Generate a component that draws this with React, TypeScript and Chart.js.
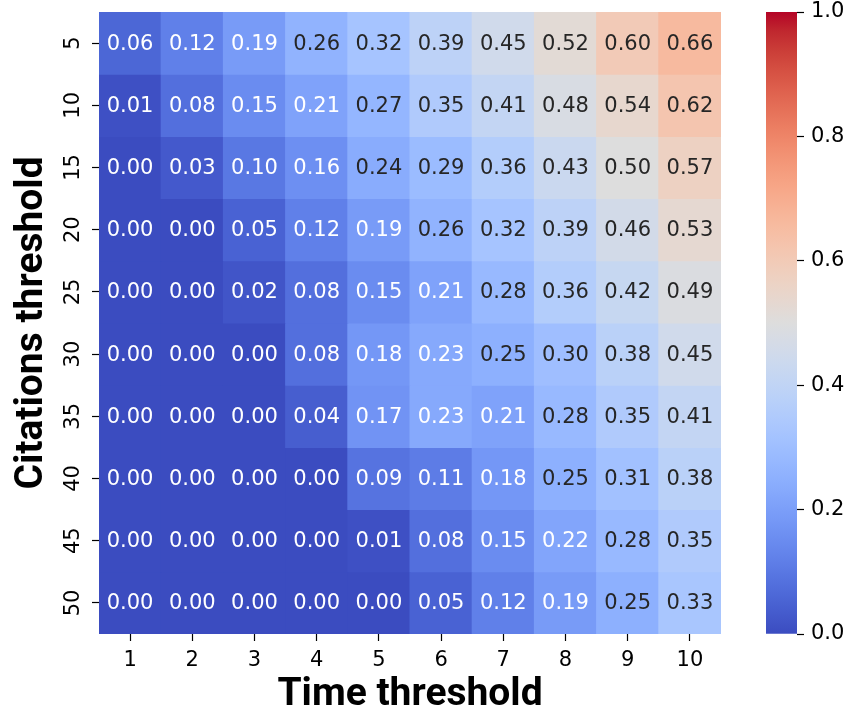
import React, { useEffect, useRef } from "react";
import { Chart, registerables } from "chart.js";

Chart.register(...registerables);

// ---- data ----
const timeThresholds = ["1", "2", "3", "4", "5", "6", "7", "8", "9", "10"];
const citationThresholds = ["5", "10", "15", "20", "25", "30", "35", "40", "45", "50"];

const row5 = [0.06, 0.12, 0.19, 0.26, 0.32, 0.39, 0.45, 0.52, 0.6, 0.66];
const row10 = [0.01, 0.08, 0.15, 0.21, 0.27, 0.35, 0.41, 0.48, 0.54, 0.62];
const row15 = [0.0, 0.03, 0.1, 0.16, 0.24, 0.29, 0.36, 0.43, 0.5, 0.57];
const row20 = [0.0, 0.0, 0.05, 0.12, 0.19, 0.26, 0.32, 0.39, 0.46, 0.53];
const row25 = [0.0, 0.0, 0.02, 0.08, 0.15, 0.21, 0.28, 0.36, 0.42, 0.49];
const row30 = [0.0, 0.0, 0.0, 0.08, 0.18, 0.23, 0.25, 0.3, 0.38, 0.45];
const row35 = [0.0, 0.0, 0.0, 0.04, 0.17, 0.23, 0.21, 0.28, 0.35, 0.41];
const row40 = [0.0, 0.0, 0.0, 0.0, 0.09, 0.11, 0.18, 0.25, 0.31, 0.38];
const row45 = [0.0, 0.0, 0.0, 0.0, 0.01, 0.08, 0.15, 0.22, 0.28, 0.35];
const row50 = [0.0, 0.0, 0.0, 0.0, 0.0, 0.05, 0.12, 0.19, 0.25, 0.33];
const matrix = [row5, row10, row15, row20, row25, row30, row35, row40, row45, row50];

const colorbarTicks = [0, 0.2, 0.4, 0.6, 0.8, 1.0];

// ---- coolwarm colormap ----
const COOLWARM: number[][] = [
  [59, 76, 192], [68, 90, 204], [77, 104, 215], [87, 117, 225], [98, 130, 234],
  [108, 142, 241], [119, 154, 247], [130, 165, 251], [141, 176, 254], [152, 185, 255],
  [163, 194, 255], [174, 201, 253], [184, 208, 249], [194, 213, 244], [204, 217, 238],
  [213, 219, 230], [221, 221, 221], [229, 216, 209], [236, 211, 197], [241, 204, 185],
  [245, 196, 173], [247, 187, 160], [247, 177, 148], [247, 166, 135], [244, 154, 123],
  [241, 141, 111], [236, 127, 99], [229, 112, 88], [222, 96, 77], [213, 80, 66],
  [203, 62, 56], [192, 40, 47], [180, 4, 38],
];

function coolwarm(t: number): number[] {
  const v = Math.min(1, Math.max(0, t)) * (COOLWARM.length - 1);
  const i = Math.min(COOLWARM.length - 2, Math.floor(v));
  const f = v - i;
  const a = COOLWARM[i];
  const b = COOLWARM[i + 1];
  return [0, 1, 2].map((k) => Math.round(a[k] + (b[k] - a[k]) * f));
}
const rgbStr = (c: number[]) => `rgb(${c[0]},${c[1]},${c[2]})`;

function luminance(c: number[]): number {
  const lin = c.map((x) => {
    const s = x / 255;
    return s <= 0.03928 ? s / 12.92 : Math.pow((s + 0.055) / 1.055, 2.4);
  });
  return 0.2126 * lin[0] + 0.7152 * lin[1] + 0.0722 * lin[2];
}

const TICK_FONT = { family: "DejaVu Sans", size: 21 };
const TITLE_FONT = { family: "Roboto", size: 39, weight: "bold" as const, lineHeight: 1 };

const annotPlugin = {
  id: "annot",
  afterDatasetsDraw(chart: any) {
    const ctx = chart.ctx;
    ctx.save();
    ctx.font = '21px "DejaVu Sans"';
    ctx.textAlign = "center";
    ctx.textBaseline = "middle";
    matrix.forEach((row, r) => {
      const meta = chart.getDatasetMeta(r);
      row.forEach((v, c) => {
        const el = meta.data[c];
        if (!el) return;
        const p = el.getCenterPoint();
        ctx.fillStyle = luminance(coolwarm(v)) > 0.408 ? "#262626" : "#ffffff";
        ctx.fillText(v.toFixed(2), p.x, p.y + 1);
      });
    });
    ctx.restore();
  },
};

export default function App() {
  const mainRef = useRef<HTMLCanvasElement>(null);
  const cbRef = useRef<HTMLCanvasElement>(null);

  useEffect(() => {
    const datasets = matrix.map((row, r) => ({
      label: citationThresholds[r],
      data: row.map(() => [r - 0.5, r + 0.5]),
      backgroundColor: row.map((v) => rgbStr(coolwarm(v))),
      borderWidth: 0,
      barPercentage: 1,
      categoryPercentage: 1,
      inflateAmount: 0.5,
    }));

    const main = new Chart(mainRef.current as HTMLCanvasElement, {
      type: "bar",
      data: { labels: timeThresholds, datasets: datasets as any },
      plugins: [annotPlugin],
      options: {
        animation: false,
        responsive: false,
        layout: { padding: { left: 0, top: 12, right: 130, bottom: 0 } },
        plugins: { legend: { display: false }, tooltip: { enabled: false } },
        scales: {
          x: {
            type: "category",
            stacked: true,
            offset: true,
            border: { display: false },
            grid: { offset: false, drawOnChartArea: false, drawTicks: true, tickLength: 7, color: "#000", tickWidth: 1.2 },
            ticks: { font: TICK_FONT, color: "#000", padding: 7, minRotation: 0, maxRotation: 0, autoSkip: false },
            title: { display: true, text: "Time threshold", font: TITLE_FONT, color: "#000", padding: { top: 0, bottom: 0 } },
            afterFit: (s: any) => {
              s.height = 81;
              s.paddingLeft = 0;
              s.paddingRight = 0;
            },
          },
          y: {
            type: "linear",
            stacked: false,
            min: -0.5,
            max: 9.5,
            reverse: true,
            border: { display: false },
            grid: { drawOnChartArea: false, drawTicks: true, tickLength: 7, color: "#000", tickWidth: 1.2 },
            afterBuildTicks: (s: any) => {
              s.ticks = citationThresholds.map((_, i) => ({ value: i }));
            },
            ticks: {
              font: TICK_FONT,
              color: "#000",
              padding: 5,
              minRotation: 90,
              maxRotation: 90,
              crossAlign: "center",
              callback: (v: any) => citationThresholds[Math.round(Number(v))],
            },
            title: { display: true, text: "Citations threshold", font: TITLE_FONT, color: "#000", padding: { top: 13, bottom: 0 } },
            afterFit: (s: any) => {
              s.width = 99;
              s.paddingTop = 0;
              s.paddingBottom = 0;
            },
          },
        },
      } as any,
    });

    const cb = new Chart(cbRef.current as HTMLCanvasElement, {
      type: "bar",
      data: {
        labels: [""],
        datasets: [
          {
            data: [[0, 1]] as any,
            borderWidth: 0,
            barPercentage: 1,
            categoryPercentage: 1,
            backgroundColor: (c: any) => {
              const chart = c.chart;
              const ys = chart.scales?.y;
              if (!chart.chartArea || !ys) return "rgb(221,221,221)";
              const g = chart.ctx.createLinearGradient(0, ys.getPixelForValue(0), 0, ys.getPixelForValue(1));
              COOLWARM.forEach((col, i) => g.addColorStop(i / (COOLWARM.length - 1), rgbStr(col)));
              return g;
            },
          },
        ],
      },
      options: {
        animation: false,
        responsive: false,
        layout: { padding: { left: 766, top: 12, right: 0, bottom: 81 } },
        plugins: { legend: { display: false }, tooltip: { enabled: false } },
        scales: {
          x: { display: false },
          y: {
            position: "right",
            min: 0,
            max: 1,
            border: { display: false },
            grid: { drawOnChartArea: false, drawTicks: true, tickLength: 7, color: "#000", tickWidth: 1.2 },
            afterBuildTicks: (s: any) => {
              s.ticks = colorbarTicks.map((v) => ({ value: v }));
            },
            ticks: { font: TICK_FONT, color: "#000", padding: 7, callback: (v: any) => Number(v).toFixed(1) },
            afterFit: (s: any) => {
              s.width = 54;
              s.paddingTop = 0;
              s.paddingBottom = 0;
            },
          },
        },
      } as any,
    });

    return () => {
      main.destroy();
      cb.destroy();
    };
  }, []);

  return (
    <div style={{ position: "fixed", left: 0, top: 0, width: 851, height: 715, background: "#fff" }}>
      <canvas ref={mainRef} width={851} height={715} style={{ position: "absolute", left: 0, top: 0 }} />
      <canvas ref={cbRef} width={851} height={715} style={{ position: "absolute", left: 0, top: 0, pointerEvents: "none" }} />
    </div>
  );
}
